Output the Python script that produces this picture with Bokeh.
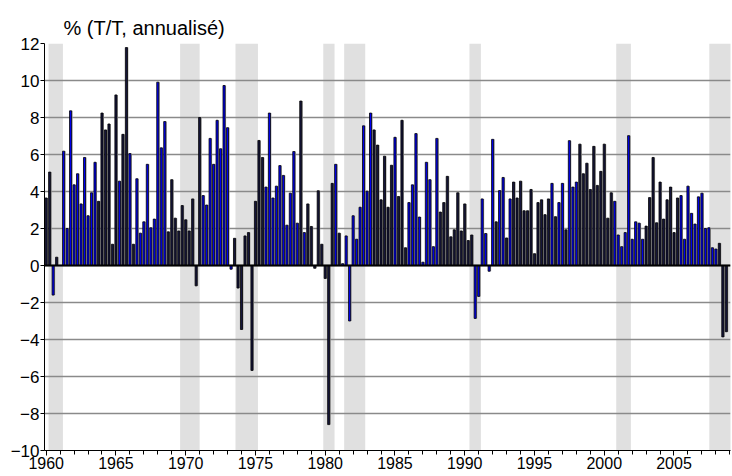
import numpy as np
from bokeh.plotting import figure
from bokeh.models import ColumnDataSource, FixedTicker, Span
from bokeh.transform import dodge
from bokeh.embed import file_html
from bokeh.resources import INLINE

# ---- data -------------------------------------------------------------
first_year = 1960
growth = [
    3.65, 5.05, -1.6, 0.45, 0.0, 6.18, 2.0, 8.36, 4.36, 4.96,
    3.33, 5.84, 2.69, 3.93, 5.58, 3.47, 8.24, 7.33, 7.65, 1.15,
    9.22, 4.56, 7.09, 11.78, 6.05, 1.15, 4.69, 1.75, 2.36, 5.47,
    2.04, 2.51, 9.91, 6.36, 7.78, 1.82, 4.64, 2.56, 1.87, 3.24,
    2.47, 1.87, 3.6, -1.1, 8.0, 3.78, 3.27, 6.87, 5.47, 7.85,
    6.31, 9.73, 7.45, -0.2, 1.47, -1.22, -3.46, 1.6, 1.78, -5.67,
    3.47, 6.76, 5.84, 4.24, 8.24, 3.65, 4.29, 5.4, 4.87, 2.18,
    3.91, 6.16, 2.29, 8.89, 1.78, 3.33, 2.11, -0.15, 4.04, 1.15,
    -0.7, -8.6, 4.44, 5.47, 1.75, 0.1, 1.6, -3.0, 2.69, 1.42,
    3.15, 7.55, 4.02, 8.24, 7.33, 6.51, 3.55, 5.91, 3.15, 5.42,
    6.93, 3.73, 7.85, 0.96, 3.4, 4.36, 7.13, 2.62, 0.18, 5.58,
    4.64, 1.02, 6.87, 2.89, 3.4, 4.82, 1.55, 1.93, 3.93, 1.87,
    3.33, 1.35, 1.65, -2.86, -1.67, 3.6, 1.73, -0.31, 6.82, 2.36,
    4.05, 4.76, 1.49, 3.6, 4.51, 3.65, 4.56, 2.96, 2.96, 4.11,
    0.64, 3.4, 3.55, 2.75, 3.6, 4.44, 2.64, 3.4, 4.44, 1.93,
    6.75, 4.24, 4.51, 6.56, 4.96, 5.53, 4.11, 6.44, 4.33, 5.09,
    6.56, 2.56, 3.93, 3.47, 1.65, 1.02, 1.78, 7.02, 1.42, 2.36,
    2.29, 1.42, 2.13, 3.67, 5.84, 2.31, 4.51, 2.51, 3.55, 4.24,
    1.78, 3.65, 3.78, 1.42, 4.29, 2.82, 2.24, 3.71, 3.91, 2.0,
    2.04, 0.96, 0.89, 1.2, -3.86, -3.58,
]
# B = blue bar, D = dark bar
bar_group = list(
    "DDBDDBBBBB" "BBBBBDDDDD" "DBDDBDBBBB" "BBBBBDDDDD"
    "DDDDDBBBBB" "BBBBDDDDDD" "DDDBBBBBBB" "BBBDBDDDDD"
    "DDDBDBBBBB" "BBBBDDDDDD" "BDDDBBBBBB" "BBBDDDDDDD"
    "DDDBBBBBBD" "BBDBDDDDDD" "DDDDDBDBBD" "BBBDDDDDDD"
    "DDDBBBBBBB" "BBDDDDDDDD" "DDBBBBBBBB" "BBBDDD"
)
rec_start = [1960.17, 1969.6, 1973.57, 1979.86, 1981.36, 1990.34, 2000.86, 2007.53]
rec_end = [1961.2, 1971.0, 1975.18, 1980.67, 1982.87, 1991.16, 2001.91, 2009.1]
y_ticks = list(range(-10, 13, 2))
x_major = list(range(1960, 2006, 5))
x_minor = list(range(1960, 2010))
title_text = "% (T/T, annualisé)"

# ---- build ------------------------------------------------------------
n = len(growth)
quarters = first_year + np.arange(n) * 0.25
fills = ["#0000f0" if g == "B" else "#15153a" for g in bar_group]
src = ColumnDataSource(dict(x=quarters, top=growth, fill=fills))

FONT = "Liberation Sans"
p = figure(width=732, height=476, output_backend="svg", toolbar_location=None,
           x_range=(1959.88, 2009.05), y_range=(-10, 12),
           min_border_left=44, min_border_right=2, min_border_top=43,
           min_border_bottom=26, title=title_text)
p.outline_line_color = None
p.background_fill_color = "white"

p.title.text_font = FONT
p.title.text_font_size = "20px"
p.title.text_font_style = "normal"
p.title.align = "left"
p.title.offset = 19
p.title.text_color = "black"

# recession shading
p.quad(left=rec_start, right=rec_end, bottom=-10, top=12,
       fill_color="#e0e0e0", line_color=None, level="image")

# bar shadows and bars
p.vbar(x=dodge("x", 0.075), top="top", bottom=0, width=0.14, source=src,
       fill_color="#a8a8a8", line_color=None)
p.vbar(x="x", top="top", bottom=0, width=0.15, source=src,
       fill_color="fill", line_color="black", line_width=0.8)

p.add_layout(Span(location=0, dimension="width", line_color="black", line_width=2))

# axes
p.yaxis.ticker = FixedTicker(ticks=y_ticks)
p.ygrid.ticker = FixedTicker(ticks=[t for t in y_ticks if -10 < t < 12])
p.ygrid.grid_line_color = "#8a8a8a"
p.ygrid.grid_line_width = 1.5
p.xgrid.grid_line_color = None

p.xaxis.ticker = FixedTicker(ticks=x_major, minor_ticks=x_minor)
for ax in (p.xaxis[0], p.yaxis[0]):
    ax.axis_line_color = "black"
    ax.axis_line_width = 1
    ax.major_tick_line_color = "black"
    ax.minor_tick_line_color = "black"
    ax.major_label_text_font = FONT
    ax.major_label_text_color = "black"

p.yaxis.major_label_text_font_size = "17px"
p.yaxis.major_tick_out = 4
p.yaxis.major_tick_in = 0
p.yaxis.minor_tick_out = 0
p.yaxis.minor_tick_in = 0
p.yaxis.major_label_standoff = 1

p.xaxis.major_label_text_font_size = "16px"
p.xaxis.major_tick_out = 5
p.xaxis.major_tick_in = 0
p.xaxis.minor_tick_out = 4
p.xaxis.minor_tick_in = 0
p.xaxis.major_label_standoff = 1

open("out.html", "w").write(file_html(p, INLINE))
